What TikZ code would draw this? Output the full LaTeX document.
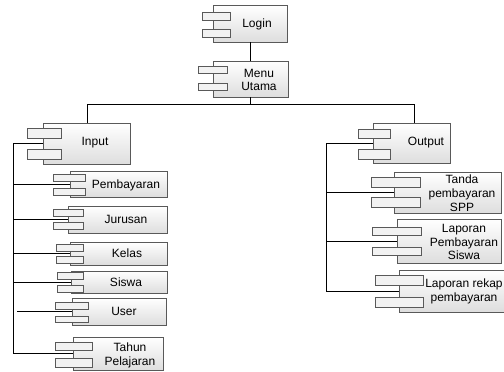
\documentclass[tikz,border=0pt]{standalone}
\usepackage{fontspec}
\setmainfont{Liberation Sans}
\usetikzlibrary{fit,shadows}
\tikzset{
  body/.style={draw=gray!70!black, line width=0.6pt, top color=white, bottom color=black!13,
    inner sep=0pt, outer sep=0pt,
    drop shadow={shadow xshift=1.3pt, shadow yshift=-1.3pt, fill=black!40, opacity=1}},
  portbox/.style={draw=gray!70!black, line width=0.5pt, fill=black!5, inner sep=0pt, outer sep=0pt},
  lbl/.style={font=\fontsize{12}{13.8}\selectfont, align=center, inner sep=0pt},
  wire/.style={draw=black, line width=0.7pt}
}
\newcommand\comp[5]{\node[body, fit={(#2,#3) (#4,#5)}] (#1) {};}
\newcommand\portrect[5]{\node[portbox, fit={(#2,#3) (#4,#5)}] (#1) {};}
\begin{document}
\begin{tikzpicture}[x=1pt,y=-1pt]
\useasboundingbox (0,0) rectangle (504,372);
\fill[white] (0,0) rectangle (504,372);

% Login
\comp{login}{213}{5}{287}{42}
\portrect{login1}{202}{12}{230}{20}
\portrect{login2}{202}{29}{230}{37}
\node[lbl] (logint) at (257,24) {Login};

% Menu Utama
\comp{menu}{213}{61}{288}{97}
\portrect{menu1}{198}{66}{227}{73}
\portrect{menu2}{198}{83}{227}{90}
\node[lbl] (menut) at (259,80) {Menu\\Utama};

% Input
\comp{input}{43}{123}{130}{164}
\portrect{input1}{27}{128}{61}{138}
\portrect{input2}{27}{149}{61}{159}
\node[lbl] (inputt) at (95,143) {Input};

% Output
\comp{output}{373}{123}{450}{163}
\portrect{output1}{358}{129}{390}{138}
\portrect{output2}{358}{149}{390}{159}
\node[lbl] (outputt) at (426,143) {Output};

% Left children
\comp{pemb}{70}{171}{167}{197}
\portrect{pemb1}{53}{174}{85}{181}
\portrect{pemb2}{53}{188}{85}{195}
\node[lbl] (pembt) at (126,185) {Pembayaran};

\comp{jur}{68}{206}{167}{233}
\portrect{jur1}{53}{209}{83}{216}
\portrect{jur2}{53}{222}{83}{229}
\node[lbl] (jurt) at (126,219) {Jurusan};

\comp{kelas}{70}{242}{167}{265}
\portrect{kelas1}{56}{244}{83}{251}
\portrect{kelas2}{56}{256}{83}{263}
\node[lbl] (kelast) at (127,253) {Kelas};

\comp{siswa}{71}{271}{167}{293}
\portrect{siswa1}{57}{272}{83}{279}
\portrect{siswa2}{57}{285}{83}{292}
\node[lbl] (siswat) at (126,282) {Siswa};

\comp{user}{72}{298}{166}{325}
\portrect{user1}{55}{302}{88}{309}
\portrect{user2}{55}{316}{88}{322}
\node[lbl] (usert) at (124,311) {User};

\comp{tahun}{73}{337}{163}{370}
\portrect{tahun1}{55}{342}{92}{350}
\portrect{tahun2}{55}{358}{92}{367}
\node[lbl] (tahunt) at (130,355) {Tahun\\Pelajaran};

% Right children
\comp{tanda}{394}{172}{501}{213}
\portrect{tanda1}{371}{177}{420}{187}
\portrect{tanda2}{371}{197}{420}{207}
\node[lbl] (tandat) at (462,193) {Tanda\\pembayaran\\SPP};

\comp{lapp}{397}{219}{501}{263}
\portrect{lapp1}{372}{227}{421}{235}
\portrect{lapp2}{372}{247}{421}{255}
\node[lbl] (lappt) at (464,242) {Laporan\\Pembayaran\\Siswa};

\comp{rekap}{399}{270}{512}{312}
\portrect{rekap1}{375}{275}{423}{285}
\portrect{rekap2}{375}{297}{423}{307}
\node[lbl] (rekapt) at (464,291) {Laporan rekap\\pembayaran};

% Connectors
\coordinate (hl) at (87,104);
\coordinate (hr) at (414,104);
\coordinate (lb) at (13,143.5);
\coordinate (rb) at (326,143);
\coordinate (userend) at (17,311.5);

\draw[wire] (login.south -| 250,0) -- (menu.north -| 250,0);
\draw[wire] (menu.south -| 250,0) -- (250,104);
\draw[wire] (input.north -| hl) -- (hl) -- (hr) -- (output.north -| hr);

\draw[wire] (input.west) -- (lb) -- (lb |- tahun.west) -- (tahun.west);
\draw[wire] (lb |- pemb.west) -- (pemb.west);
\draw[wire] (lb |- jur.west) -- (jur.west);
\draw[wire] (lb |- kelas.west) -- (kelas.west);
\draw[wire] (lb |- siswa.west) -- (siswa.west);
\draw[wire] (userend) -- (user.west);

\draw[wire] (output.west) -- (rb) -- (rb |- rekap.west) -- (rekap.west);
\draw[wire] (rb |- tanda.west) -- (tanda.west);
\draw[wire] (rb |- lapp.west) -- (lapp.west);
\end{tikzpicture}
\end{document}
